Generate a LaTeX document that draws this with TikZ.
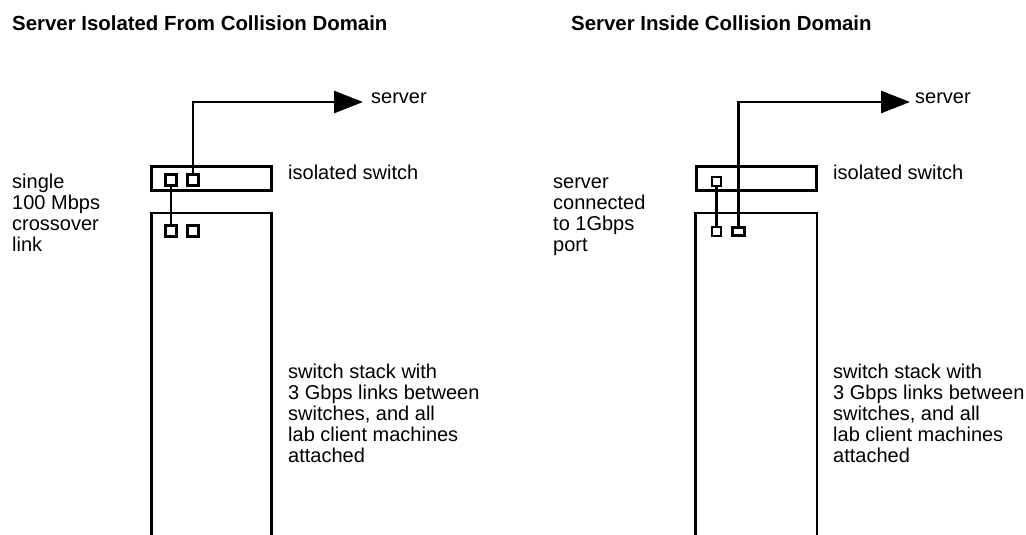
\documentclass[tikz,border=0pt]{standalone}
\usepackage{fontspec}
\setmainfont{Liberation Sans}
\usetikzlibrary{arrows.meta}
\begin{document}
\begin{tikzpicture}[x=1pt,y=-1pt,
  lw/.style={line width=2.8pt},
  box/.style={draw,lw,inner sep=0pt,minimum width=120pt,minimum height=24pt},
  port/.style={draw,lw,inner sep=0pt,minimum width=11pt,minimum height=11pt},
  sport/.style={draw,lw,inner sep=0pt,minimum width=9pt,minimum height=9pt},
  wport/.style={draw,lw,inner sep=0pt,minimum width=11.5pt,minimum height=8.7pt},
  wire/.style={lw},
  arr/.style={lw,-{Triangle[length=29pt,width=22pt]}},
  lab/.style={inner sep=0pt,anchor=base west,align=left,font=\fontsize{20}{21}\selectfont},
  ttl/.style={inner sep=0pt,anchor=base west,font=\fontsize{20.4}{24}\selectfont\bfseries}]
\useasboundingbox (0,0) rectangle (1026,535);
\clip (0,0) rectangle (1026,535);
\fill[white] (0,0) rectangle (1026,535);

% titles
\node[ttl] (t1) at (12,31) {Server Isolated From Collision Domain};
\node[ttl] (t2) at (571,31) {Server Inside Collision Domain};

% ---------- left diagram ----------
\node[box] (liso) at (211.5,178.5) {};
\draw[lw] (151.5,545) -- (151.5,213) -- (271.5,213) -- (271.5,545);
\node[port] (lip1) at (171,180) {};
\node[port] (lip2) at (193,180) {};
\node[port] (lsp1) at (171,231) {};
\node[port] (lsp2) at (193,231) {};
\coordinate (ltip) at (363,102);
\draw[wire] (lip1.south) -- (lsp1.north);
\draw[arr] (lip2.north) |- (ltip);

\node[lab] (lsrv) at (371,103) {server};
\node[lab] (lisol) at (288,179) {isolated switch};
\node[lab] (llink) at (12,251) {single\\100 Mbps\\crossover\\link};
\node[lab] (lstack) at (288,462) {switch stack with\\3 Gbps links between\\switches, and all\\lab client machines\\attached};

% ---------- right diagram ----------
\node[box] (riso) at (756.2,178.5) {};
\draw[lw] (695.4,545) -- (695.4,213) -- (817,213) -- (817,545);
\node[sport] (rip1) at (716.5,181.5) {};
\node[sport] (rsp1) at (716.5,231.5) {};
\node[wport] (rsp2) at (738.5,231.5) {};
\coordinate (rtip) at (910,102);
\draw[wire] (rip1.south) -- (rsp1.north);
\draw[arr] (rsp2.north) |- (rtip);

\node[lab] (rsrv) at (915,103) {server};
\node[lab] (risol) at (833,179) {isolated switch};
\node[lab] (rcon) at (553,251) {server\\connected\\to 1Gbps\\port};
\node[lab] (rstack) at (833,462) {switch stack with\\3 Gbps links between\\switches, and all\\lab client machines\\attached};
\end{tikzpicture}
\end{document}
